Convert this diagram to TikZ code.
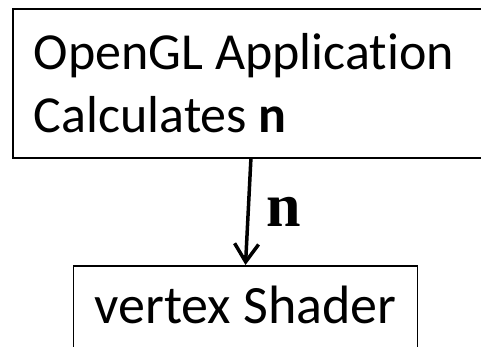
\documentclass[tikz,border=0pt]{standalone}
\usepackage{fontspec}
\setmainfont{Carlito}[Ligatures=NoCommon]
\newfontfamily\serifbf{Liberation Serif}
\usetikzlibrary{arrows.meta}
\tikzset{
  stage/.style={draw, line width=1.8pt, rectangle, inner ysep=0pt},
}
\begin{document}
\begin{tikzpicture}[x=1pt,y=-1pt]
  \useasboundingbox (0,0) rectangle (481,347);
  \clip (0,0) rectangle (481,347);

  \node[stage, anchor=north west, inner xsep=21pt, minimum height=149pt,
    font=\fontsize{52}{63}\selectfont] (app) at (12,8)
    {\parbox{450pt}{\raggedright OpenGL Application\\Calculates \textbf{n}}};
  \node[stage, anchor=north, inner xsep=21pt, minimum width=342pt, text height=58pt, text depth=40pt,
    font=\fontsize{54}{62}\selectfont] (shader) at (245.5,265) {vertex Shader};

  \draw[-{Straight Barb[length=18pt,width=24pt]}, line width=3.5pt] ([xshift=-8pt]app.south) -- (shader.north)
    node[midway, right=13pt, font=\serifbf\bfseries\fontsize{62}{62}\selectfont] (nlabel) {n};
\end{tikzpicture}
\end{document}
